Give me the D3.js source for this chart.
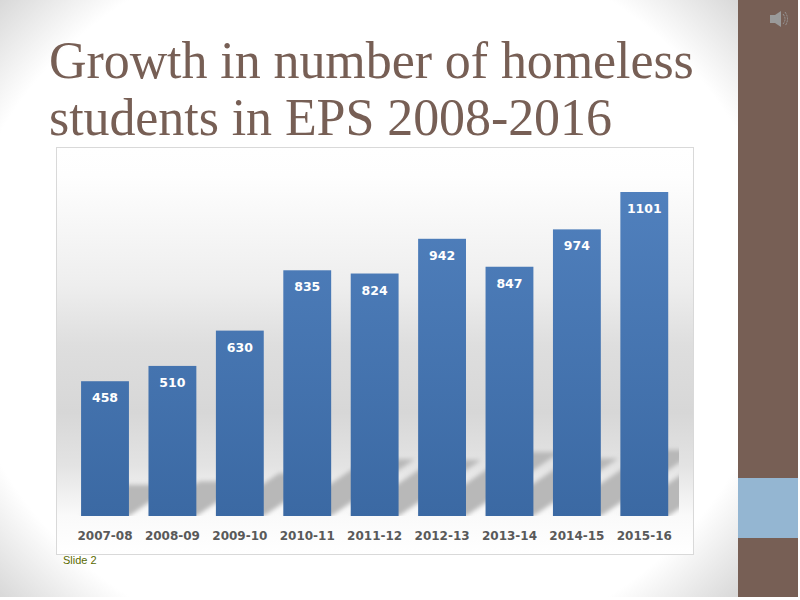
<!DOCTYPE html>
<html>
<head>
<meta charset="utf-8">
<script src="https://cdn.jsdelivr.net/npm/d3@7/dist/d3.min.js"></script>
<style>
  html, body { margin: 0; padding: 0; background: #fff; overflow: hidden; }
</style>
</head>
<body>
<div id="chart"></div>
<script>
// Chart data
var years = ["2007-08", "2008-09", "2009-10", "2010-11", "2011-12", "2012-13", "2013-14", "2014-15", "2015-16"];
var students = [458, 510, 630, 835, 824, 942, 847, 974, 1101];
var titleLines = ["Growth in number of homeless", "students in EPS 2008-2016"];

var rows = years.map(function (y, i) { return { year: y, value: students[i] }; });

// Card position on the slide
var card = { left: 56.5, top: 147.5, width: 637, height: 407 };
var baseY = 516, topY = 192;

var svg = d3.select("#chart").append("svg")
    .attr("width", 800)
    .attr("height", 600)
    .style("display", "block");

var defs = svg.append("defs");

// Slide background, white middle with grey corners
var bg = defs.append("radialGradient").attr("id", "slideBg")
    .attr("gradientUnits", "userSpaceOnUse")
    .attr("cx", 0).attr("cy", 0).attr("r", 1)
    .attr("gradientTransform", "translate(369,298) scale(500,443)");
bg.append("stop").attr("offset", "0.826").attr("stop-color", "#ffffff");
bg.append("stop").attr("offset", "1").attr("stop-color", "#d8d8d8");

// Plot wall gradient
var wall = defs.append("linearGradient").attr("id", "wall")
    .attr("x1", 0).attr("y1", 0).attr("x2", 0).attr("y2", 1);
wall.append("stop").attr("offset", "0").attr("stop-color", "#ffffff");
wall.append("stop").attr("offset", "0.07").attr("stop-color", "#fefefe");
wall.append("stop").attr("offset", "0.338").attr("stop-color", "#eeeeee");
wall.append("stop").attr("offset", "0.486").attr("stop-color", "#dedede");
wall.append("stop").attr("offset", "0.65").attr("stop-color", "#d7d7d7");
wall.append("stop").attr("offset", "0.78").attr("stop-color", "#e3e3e3");
wall.append("stop").attr("offset", "0.906").attr("stop-color", "#fafafa");
wall.append("stop").attr("offset", "1").attr("stop-color", "#ffffff");

// Bar gradient
var barFill = defs.append("linearGradient").attr("id", "barFill")
    .attr("gradientUnits", "userSpaceOnUse")
    .attr("x1", 0).attr("y1", topY).attr("x2", 0).attr("y2", baseY);
barFill.append("stop").attr("offset", "0").attr("stop-color", "#5080bd");
barFill.append("stop").attr("offset", "1").attr("stop-color", "#3b69a3");

defs.append("filter").attr("id", "soft")
    .attr("x", "-20%").attr("y", "-20%").attr("width", "140%").attr("height", "140%")
    .append("feGaussianBlur").attr("stdDeviation", 2);

defs.append("clipPath").attr("id", "floorClip")
    .append("rect").attr("x", 57).attr("y", 430).attr("width", 622).attr("height", 86);

// Slide parts
svg.append("rect").attr("width", 798).attr("height", 597).attr("fill", "url(#slideBg)");
svg.append("rect").attr("x", 738).attr("y", 0).attr("width", 60).attr("height", 597).attr("fill", "#775f55");
svg.append("rect").attr("x", 738).attr("y", 478).attr("width", 60).attr("height", 60).attr("fill", "#94b6d2");

// Speaker icon
var speaker = svg.append("g").attr("transform", "translate(770,11)");
speaker.append("path").attr("d", "M0,4 H5 L11,0 V16 L5,12 H0 Z").attr("fill", "#9a9a9a");
speaker.append("path").attr("d", "M13,3 Q17,8 13,13 M15,1 Q20,8 15,15")
    .attr("fill", "none").attr("stroke", "#9a9a9a").attr("stroke-width", 1).attr("stroke-dasharray", "2 1");

// Title
svg.append("g").selectAll("text")
    .data(titleLines)
    .enter().append("text")
    .attr("x", 49)
    .attr("y", function (d, i) { return 78 + i * 57; })
    .attr("font-family", "'Liberation Serif', serif")
    .attr("font-size", 52)
    .attr("letter-spacing", -0.08)
    .attr("fill", "#775f55")
    .text(function (d) { return d; });

// Chart card
svg.append("rect")
    .attr("x", card.left).attr("y", card.top)
    .attr("width", card.width).attr("height", card.height)
    .attr("fill", "url(#wall)")
    .attr("stroke", "#d9d9d9");

// Scales
var x = d3.scaleBand().domain(years).range([71.3, 678]).paddingInner(0.29).paddingOuter(0.145);
var y = d3.scaleLinear().domain([0, 1101]).range([baseY, topY]);

// Floor shadows falling behind the bars, skewed up and to the right
svg.append("g")
    .attr("clip-path", "url(#floorClip)")
    .append("g")
    .attr("filter", "url(#soft)")
    .selectAll("path")
    .data(rows)
    .enter().append("path")
    .attr("fill", "#b8b8b8")
    .attr("d", function (d) {
        var x0 = x(d.year), x1 = x0 + x.bandwidth();
        var rise = (baseY - y(d.value)) * 0.231;
        var run = rise / 0.68;
        return "M" + x0 + "," + baseY + "L" + x1 + "," + baseY +
            "L" + (x1 + run) + "," + (baseY - rise) + "L" + (x0 + run) + "," + (baseY - rise) + "Z";
    });

// Bars
svg.append("g").selectAll("rect")
    .data(rows)
    .enter().append("rect")
    .attr("x", function (d) { return x(d.year); })
    .attr("y", function (d) { return y(d.value); })
    .attr("width", x.bandwidth())
    .attr("height", function (d) { return baseY - y(d.value); })
    .attr("fill", "url(#barFill)");

// Value labels inside the bars
svg.append("g").selectAll("text")
    .data(rows)
    .enter().append("text")
    .attr("x", function (d) { return x(d.year) + x.bandwidth() / 2; })
    .attr("y", function (d) { return y(d.value) + 21; })
    .attr("text-anchor", "middle")
    .attr("font-family", "'DejaVu Sans', sans-serif")
    .attr("font-weight", "bold")
    .attr("font-size", 12.5)
    .attr("fill", "#ffffff")
    .text(function (d) { return d.value; });

// Category axis, no line or ticks
var xAxis = svg.append("g")
    .attr("transform", "translate(0," + baseY + ")")
    .call(d3.axisBottom(x).tickSize(0).tickPadding(15));
xAxis.select(".domain").remove();
xAxis.selectAll("text")
    .attr("font-family", "'DejaVu Sans', sans-serif")
    .attr("font-weight", "bold")
    .attr("font-size", 12)
    .attr("fill", "#595959");

// Slide number
svg.append("text")
    .attr("x", 63).attr("y", 564)
    .attr("font-family", "'Liberation Sans', sans-serif")
    .attr("font-size", 11)
    .attr("fill", "#5a6a00")
    .text("Slide 2");
</script>
</body>
</html>
